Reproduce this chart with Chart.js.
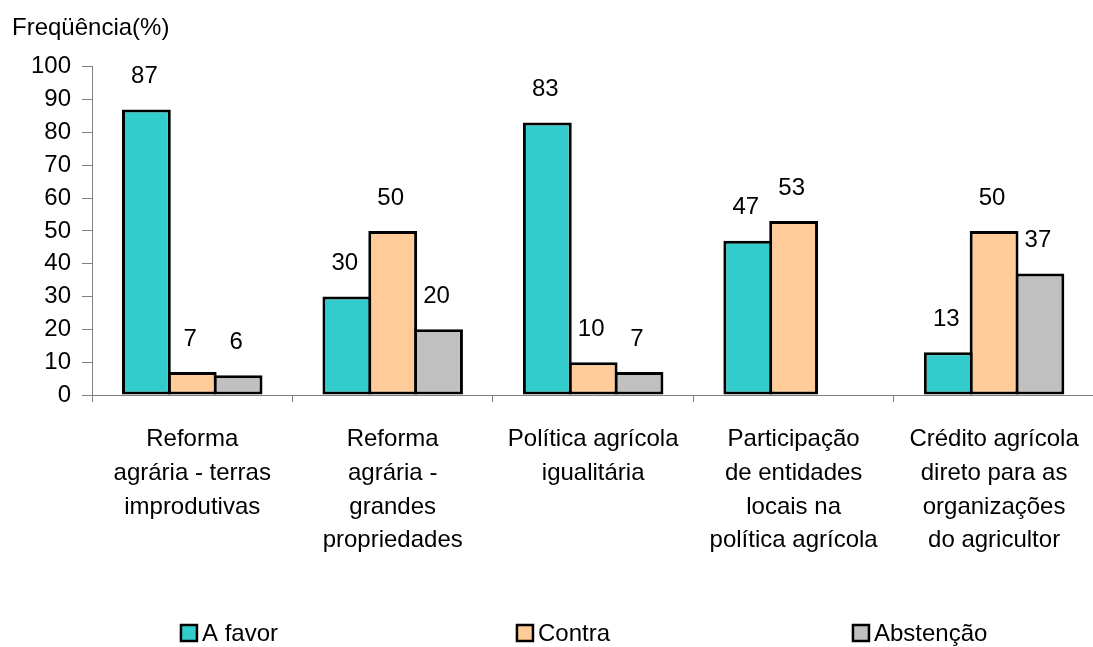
<!DOCTYPE html>
<html lang="pt">
<head>
<meta charset="utf-8">
<title>Freqüência(%)</title>
<script src="https://cdn.jsdelivr.net/npm/chart.js@4/dist/chart.umd.min.js"></script>
<style>
    html, body { margin: 0; padding: 0; background: #fff; overflow: hidden; }
    /* a bit wider than the window: the last label is cut at the right edge, as in the original */
    #chart-container { position: relative; width: 1100px; height: 647px; }
</style>
</head>
<body>
<div id="chart-container"><canvas id="chart"></canvas></div>
<script>
// --- data ---
const categories = [
    ['Reforma', 'agrária - terras', 'improdutivas'],
    ['Reforma', 'agrária -', 'grandes', 'propriedades'],
    ['Política agrícola', 'igualitária'],
    ['Participação', 'de entidades', 'locais na', 'política agrícola'],
    ['Crédito agrícola', 'direto para as', 'organizações', 'do agricultor']
];
const seriesNames = ['A favor', 'Contra', 'Abstenção'];
const aFavor = [87, 30, 83, 47, 13];
const contra = [7, 50, 10, 53, 50];
const abstencao = [6, 20, 7, null, 37];
const yTicks = [0, 10, 20, 30, 40, 50, 60, 70, 80, 90, 100];

const seriesColors = ['#33CCCC', '#FFCC99', '#C0C0C0'];
const FONT_FAMILY = '"Liberation Sans", Arial, Helvetica, sans-serif';
const FONT_SIZE = 24;

/**
 * Value labels above each bar (skips empty values)
 */
const valueLabels = {
    id: 'valueLabels',
    afterDatasetsDraw(chart) {
        const ctx = chart.ctx;
        ctx.save();
        ctx.font = `${FONT_SIZE}px ${FONT_FAMILY}`;
        ctx.fillStyle = '#000';
        ctx.textAlign = 'center';
        ctx.textBaseline = 'middle';
        chart.data.datasets.forEach((ds, i) => {
            const meta = chart.getDatasetMeta(i);
            meta.data.forEach((bar, j) => {
                const v = ds.data[j];
                if (v === null || v === undefined) return;
                ctx.fillText(String(v), bar.x - 2, bar.y - 33);
            });
        });
        ctx.restore();
    }
};

/**
 * Legend row at the bottom, items spread wide apart
 */
const bottomLegend = {
    id: 'bottomLegend',
    afterDraw(chart) {
        const ctx = chart.ctx;
        const area = chart.chartArea;
        const box = 16, gap = 5, pitch = 336;
        const y = chart.height - 14;
        ctx.save();
        ctx.font = `${FONT_SIZE}px ${FONT_FAMILY}`;
        ctx.textBaseline = 'middle';
        ctx.textAlign = 'left';
        const items = chart.data.datasets;
        const lastW = box + gap + ctx.measureText(items[items.length - 1].label).width;
        // text in the original is a little wider, so nudge the row left
        let x = (area.left + area.right) / 2 - (pitch * (items.length - 1) + lastW) / 2 - 9;
        items.forEach(ds => {
            ctx.fillStyle = ds.backgroundColor;
            ctx.fillRect(x, y - box / 2, box, box);
            ctx.lineWidth = 2.5;
            ctx.strokeStyle = '#000';
            ctx.strokeRect(x, y - box / 2, box, box);
            ctx.fillStyle = '#000';
            ctx.fillText(ds.label, x + box + gap, y + 1);
            x += pitch;
        });
        ctx.restore();
    }
};

Chart.defaults.font.family = FONT_FAMILY;
Chart.defaults.font.size = FONT_SIZE;
Chart.defaults.color = '#000';

const ctx = document.getElementById('chart').getContext('2d');
const chart = new Chart(ctx, {
    type: 'bar',
    data: {
        labels: categories,
        datasets: [aFavor, contra, abstencao].map((values, i) => ({
            label: seriesNames[i],
            data: values,
            backgroundColor: seriesColors[i],
            borderColor: '#000',
            borderWidth: 3,
            borderSkipped: false,
            categoryPercentage: 0.686,
            // slightly over 1 so neighbouring bars share one border line
            barPercentage: 1.065
        }))
    },
    options: {
        responsive: true,
        maintainAspectRatio: false,
        animation: false,
        layout: {
            padding: { left: 12, right: 2, top: 0, bottom: 0 }
        },
        plugins: {
            legend: { display: false },
            tooltip: { enabled: false },
            title: {
                display: true,
                text: 'Freqüência(%)',
                align: 'start',
                color: '#000',
                font: { size: FONT_SIZE, weight: 'normal' },
                padding: { top: 14, bottom: 24 }
            }
        },
        scales: {
            x: {
                grid: {
                    offset: true,
                    drawOnChartArea: false,
                    tickLength: 7,
                    color: '#808080'
                },
                border: { color: '#808080', width: 1 },
                ticks: {
                    maxRotation: 0,
                    autoSkip: false,
                    padding: 21,
                    font: { size: FONT_SIZE, lineHeight: 1.4 }
                },
                afterFit(scale) { scale.height = 252; }
            },
            y: {
                min: yTicks[0],
                max: yTicks[yTicks.length - 1],
                afterBuildTicks(scale) {
                    scale.ticks = yTicks.map(v => ({ value: v }));
                },
                grid: {
                    drawOnChartArea: false,
                    tickLength: 10,
                    color: '#808080'
                },
                border: { color: '#808080', width: 1 },
                ticks: {
                    padding: 11,
                    font: { size: FONT_SIZE }
                },
                afterFit(scale) { scale.width = 80; }
            }
        }
    },
    plugins: [valueLabels, bottomLegend]
});
</script>
</body>
</html>
